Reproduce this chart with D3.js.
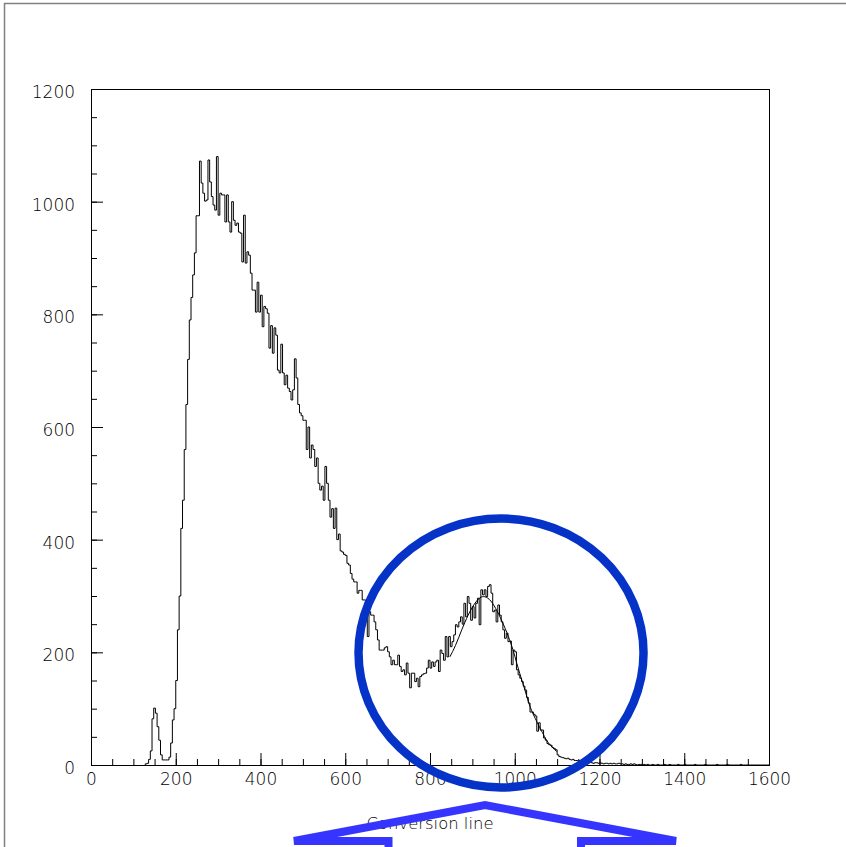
<!DOCTYPE html>
<html><head><meta charset="utf-8">
<script src="https://cdn.jsdelivr.net/npm/d3@7"></script>
<style>html,body{margin:0;padding:0;background:#fff;} svg{display:block}</style>
</head><body><svg id="c" width="846" height="847"></svg>
<script>
// ---------------- data ----------------
const binStart = 128;   // value of first listed bin's lower edge
const binWidth = 4;
const counts = [
  2,3,10,25,82,101,92,68,44,18,9,9,9,9,14,39,80,100,            // 128-199
  150,240,300,420,470,560,640,720,790,830,                      // 200-239
  870,909,975,975,1072,1033,1015,1001,1003,1074,
  1035,1009,994,985,1080,976,1015,1012,1012,964,
  1012,964,946,1000,967,958,962,946,944,893,
  976,891,911,905,873,843,843,804,857,804,
  834,778,814,810,802,740,780,731,776,763,
  701,696,747,696,675,692,669,663,648,666,
  721,687,640,625,620,612,612,560,600,545,
  568,560,530,545,500,488,495,470,530,500,
  470,440,455,420,456,400,410,
  380,378,374,372,358,355,340,330,325,325,
  305,310,310,293,293,275,228,272,266,266,
  254,240,222,204,204,204,208,210,201,192,
  178,186,178,178,195,175,166,169,160,181,
  163,137,163,163,148,154,139,157,160,162,
  163,172,186,172,183,175,183,186,166,204,
  198,186,228,192,228,210,219,231,249,245,
  254,263,250,287,263,299,287,257,281,261,
  287,296,249,311,302,311,299,317,320,305,
  272,275,254,284,266,254,240,225,234,219,
  220,178,204,201,169,160,154,148,140,133,
  120,110,94,94,90,87,60,75,62,62,48,
  44,38,36,35,31,29,27,18,15,14,13,
  12,11,12,10,9,10,8,8,7,8,6,5,
  6,6,4,5,4,3,4,4,3,4,
  3,2,3,3,2,3,2,3,2,2,3,2,
  2,1,2,1,1,2,
  1,2,1,0,1,1,0,1,0,1,0,
  0,1,0,0,1,0,0,0,1,0,
  0,1,0,0,0,0,1,0,0,0,
  1,0,0,0,0,0,1,0,0,0,
  0,0,1,0,0,0,0,0,0,1,
  0,0,0,0,0,1,0,0,0,0,
  0,0,0,1,0,0,0,0,0,0,
  0,0,0,0,0,0,0,0,0,0
];
// fitted curve over the second peak (value, count)
const fitX = [847,860,875,890,905,915,926,940,955,970,985,996,1005,1012,1020,1036,1052,1065,1075,1088,1099];
const fitY = [192,212,240,266,286,295,299,294,278,255,228,204,180,162,143,104,77,58,44,32,24];

const xDomain = [0, 1600];
const yDomain = [0, 1200];
const xMajor = [0,200,400,600,800,1000,1200,1400,1600];
const yMajor = [0,200,400,600,800,1000,1200];
const minorStep = 50;
const xTitle = "Conversion line";

// annotations, in data units
const ringCenter = [967.6, 198.8];
const ringRadii = [336.3, 238.8];
const arrowPath = [[702.1,-186.4],[702.1,-134.9],[479.1,-134.9],[929.8,-71.0],[1380.5,-134.9],[1156.3,-134.9],[1156.3,-186.4]];

// ---------------- drawing ----------------
const svg = d3.select("#c");
const L = 91, R = 769, T = 89, B = 765;
const x = d3.scaleLinear(xDomain, [L, R]);
const y = d3.scaleLinear(yDomain, [B, T]);

// canvas border (ROOT style)
svg.append("path").attr("d", "M4.5,847 V3.5 H846").attr("fill","none").attr("stroke","#808080").attr("stroke-width",1.5);

const font = "'DejaVu Sans', 'Liberation Sans', Arial, sans-serif";
const fontWeight = 200;
const textColor = "#000";

// minor ticks
const minorX = d3.range(xDomain[0], xDomain[1] + 1, minorStep);
const minorY = d3.range(yDomain[0], yDomain[1] + 1, minorStep);
svg.append("g").attr("transform", `translate(0,${B})`)
  .call(d3.axisBottom(x).tickValues(minorX).tickSize(-6).tickFormat(""))
  .call(g => g.select(".domain").remove())
  .selectAll("line").attr("stroke","#000");
svg.append("g").attr("transform", `translate(${L},0)`)
  .call(d3.axisLeft(y).tickValues(minorY).tickSize(-6).tickFormat(""))
  .call(g => g.select(".domain").remove())
  .selectAll("line").attr("stroke","#000");

function styleLabels(sel) {
  sel.attr("font-family", font).attr("font-weight", fontWeight).attr("font-size", 17).attr("fill", textColor)
    .each(function(d){ const s = String(d); d3.select(this).attr("textLength", s.length*10.8).attr("lengthAdjust","spacingAndGlyphs"); });
}

// major ticks + labels
const gx = svg.append("g").attr("transform", `translate(0,${B})`)
  .call(d3.axisBottom(x).tickValues(xMajor).tickSize(-12).tickPadding(8).tickFormat(d3.format("d")));
gx.select(".domain").remove();
gx.selectAll("line").attr("stroke","#000");
styleLabels(gx.selectAll("text"));

const gy = svg.append("g").attr("transform", `translate(${L},0)`)
  .call(d3.axisLeft(y).tickValues(yMajor).tickSize(-12).tickPadding(16).tickFormat(d3.format("d")));
gy.select(".domain").remove();
gy.selectAll("line").attr("stroke","#000");
styleLabels(gy.selectAll("text"));
gy.selectAll("text").attr("dy", "0.5em");

// frame
svg.append("rect").attr("x", L + 0.5).attr("y", T + 0.5).attr("width", R - L).attr("height", B - T)
  .attr("fill","none").attr("stroke","#000").attr("stroke-width",1);

// histogram as step line
const pts = counts.map((c, i) => [binStart + i*binWidth, c]);
pts.unshift([binStart, 0]);
pts.push([binStart + counts.length*binWidth, counts[counts.length-1]]);
const stepLine = d3.line().x(d => x(d[0])).y(d => y(d[1])).curve(d3.curveStepAfter);
svg.append("defs").append("clipPath").attr("id","clip").append("rect")
  .attr("x", L).attr("y", T).attr("width", R - L + 1).attr("height", B - T + 1);
svg.append("path").attr("d", stepLine(pts)).attr("fill","none").attr("stroke","#000")
  .attr("stroke-width",1).attr("clip-path","url(#clip)");

// fit curve
const fitPts = fitX.map((v,i) => [v, fitY[i]]);
svg.append("path").attr("d", d3.line().x(d => x(d[0])).y(d => y(d[1])).curve(d3.curveMonotoneX)(fitPts))
  .attr("fill","none").attr("stroke","#000").attr("stroke-width",1);

// axis title
svg.append("text").attr("x", (L + R)/2).attr("y", 829).attr("text-anchor","middle")
  .attr("font-family", font).attr("font-weight", fontWeight).attr("font-size", 16).attr("fill", textColor)
  .attr("textLength", 127).attr("lengthAdjust","spacingAndGlyphs").text(xTitle);

// ring annotation
svg.append("ellipse").attr("cx", x(ringCenter[0])).attr("cy", y(ringCenter[1]))
  .attr("rx", x(ringRadii[0]) - x(0)).attr("ry", y(0) - y(ringRadii[1]))
  .attr("fill","none").attr("stroke","#0533c8").attr("stroke-width",8.5);

// arrow annotation
svg.append("path").attr("d", d3.line().x(d => x(d[0])).y(d => y(d[1]))(arrowPath))
  .attr("fill","none").attr("stroke","#3535ff").attr("stroke-width",8).attr("stroke-linejoin","miter").attr("stroke-miterlimit",2);
</script></body></html>
